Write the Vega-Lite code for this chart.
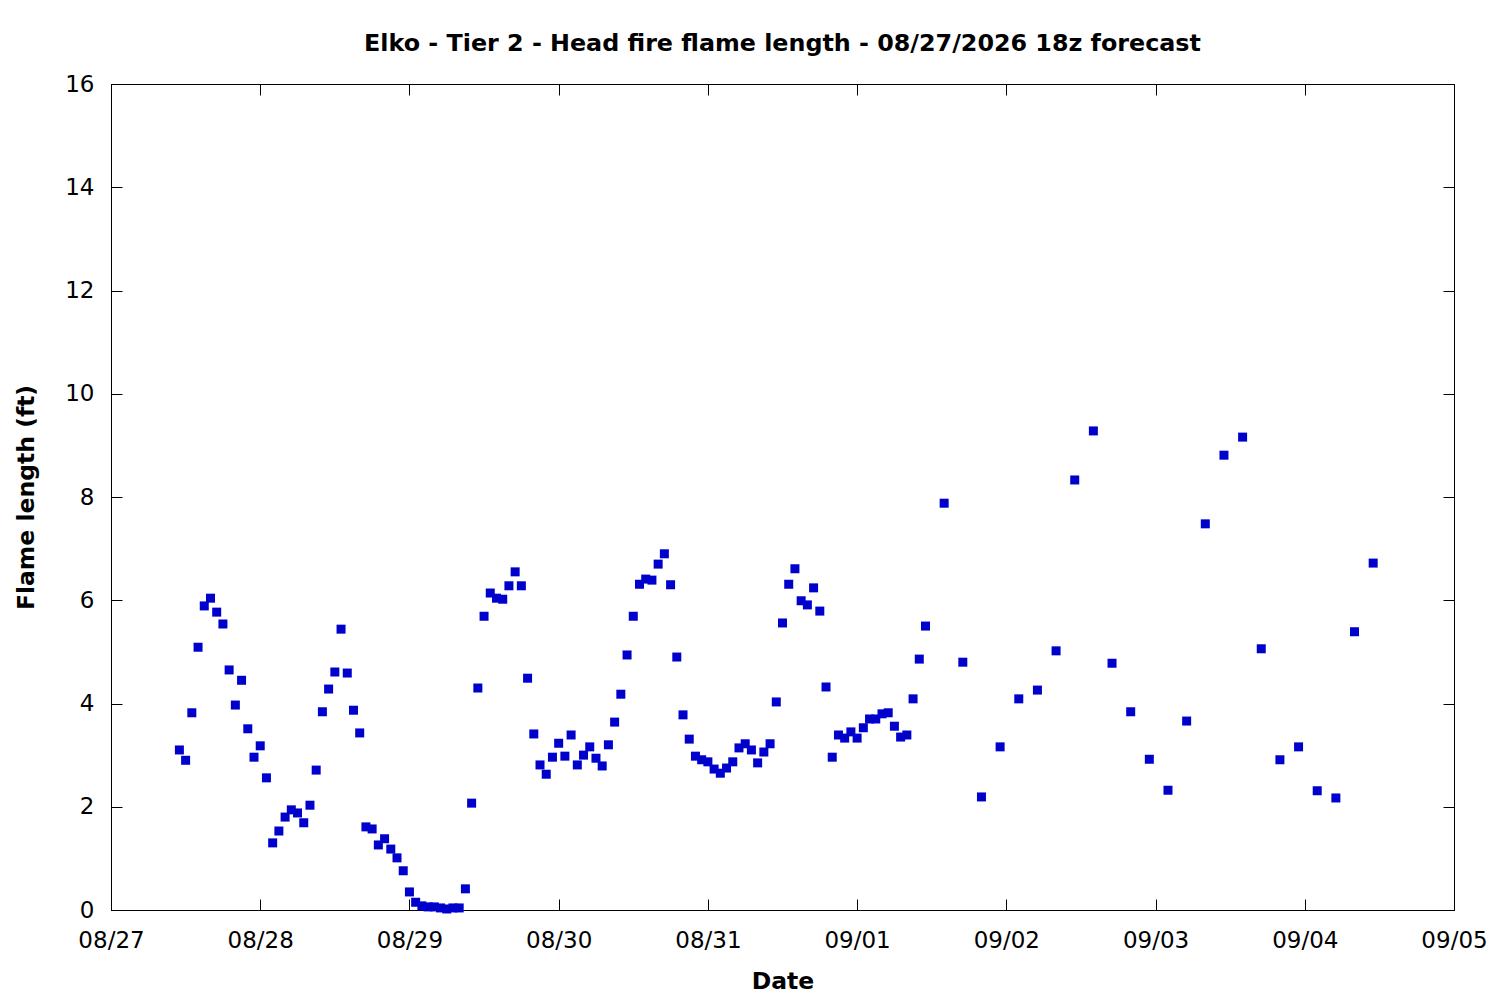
{
  "$schema": "https://vega.github.io/schema/vega-lite/v6.json",
  "width": 1343,
  "height": 826,
  "autosize": "none",
  "padding": {"left": 111, "top": 84, "right": 46, "bottom": 90},
  "background": "white",
  "title": {
    "text": "Elko - Tier 2 - Head fire flame length - 08/27/2026 18z forecast",
    "font": "DejaVu Sans",
    "fontSize": 23.8,
    "fontWeight": "bold",
    "color": "black",
    "anchor": "middle",
    "offset": 17
  },
  "data": {
    "values": [
      {"t": "2026-08-27T11:00:00", "v": 3.10},
      {"t": "2026-08-27T12:00:00", "v": 2.90},
      {"t": "2026-08-27T13:00:00", "v": 3.82},
      {"t": "2026-08-27T14:00:00", "v": 5.09},
      {"t": "2026-08-27T15:00:00", "v": 5.89},
      {"t": "2026-08-27T16:00:00", "v": 6.04},
      {"t": "2026-08-27T17:00:00", "v": 5.77},
      {"t": "2026-08-27T18:00:00", "v": 5.54},
      {"t": "2026-08-27T19:00:00", "v": 4.65},
      {"t": "2026-08-27T20:00:00", "v": 3.97},
      {"t": "2026-08-27T21:00:00", "v": 4.45},
      {"t": "2026-08-27T22:00:00", "v": 3.51},
      {"t": "2026-08-27T23:00:00", "v": 2.96},
      {"t": "2026-08-28T00:00:00", "v": 3.18},
      {"t": "2026-08-28T01:00:00", "v": 2.56},
      {"t": "2026-08-28T02:00:00", "v": 1.30},
      {"t": "2026-08-28T03:00:00", "v": 1.53},
      {"t": "2026-08-28T04:00:00", "v": 1.80},
      {"t": "2026-08-28T05:00:00", "v": 1.94},
      {"t": "2026-08-28T06:00:00", "v": 1.88},
      {"t": "2026-08-28T07:00:00", "v": 1.69},
      {"t": "2026-08-28T08:00:00", "v": 2.03},
      {"t": "2026-08-28T09:00:00", "v": 2.71},
      {"t": "2026-08-28T10:00:00", "v": 3.84},
      {"t": "2026-08-28T11:00:00", "v": 4.28},
      {"t": "2026-08-28T12:00:00", "v": 4.61},
      {"t": "2026-08-28T13:00:00", "v": 5.44},
      {"t": "2026-08-28T14:00:00", "v": 4.59},
      {"t": "2026-08-28T15:00:00", "v": 3.87},
      {"t": "2026-08-28T16:00:00", "v": 3.43},
      {"t": "2026-08-28T17:00:00", "v": 1.61},
      {"t": "2026-08-28T18:00:00", "v": 1.57},
      {"t": "2026-08-28T19:00:00", "v": 1.26},
      {"t": "2026-08-28T20:00:00", "v": 1.38},
      {"t": "2026-08-28T21:00:00", "v": 1.18},
      {"t": "2026-08-28T22:00:00", "v": 1.01},
      {"t": "2026-08-28T23:00:00", "v": 0.76},
      {"t": "2026-08-29T00:00:00", "v": 0.35},
      {"t": "2026-08-29T01:00:00", "v": 0.15},
      {"t": "2026-08-29T02:00:00", "v": 0.08},
      {"t": "2026-08-29T03:00:00", "v": 0.06},
      {"t": "2026-08-29T04:00:00", "v": 0.06},
      {"t": "2026-08-29T05:00:00", "v": 0.04},
      {"t": "2026-08-29T06:00:00", "v": 0.02},
      {"t": "2026-08-29T07:00:00", "v": 0.04},
      {"t": "2026-08-29T08:00:00", "v": 0.04},
      {"t": "2026-08-29T09:00:00", "v": 0.41},
      {"t": "2026-08-29T10:00:00", "v": 2.07},
      {"t": "2026-08-29T11:00:00", "v": 4.30},
      {"t": "2026-08-29T12:00:00", "v": 5.69},
      {"t": "2026-08-29T13:00:00", "v": 6.14},
      {"t": "2026-08-29T14:00:00", "v": 6.04},
      {"t": "2026-08-29T15:00:00", "v": 6.02},
      {"t": "2026-08-29T16:00:00", "v": 6.28},
      {"t": "2026-08-29T17:00:00", "v": 6.55},
      {"t": "2026-08-29T18:00:00", "v": 6.28},
      {"t": "2026-08-29T19:00:00", "v": 4.49},
      {"t": "2026-08-29T20:00:00", "v": 3.41},
      {"t": "2026-08-29T21:00:00", "v": 2.81},
      {"t": "2026-08-29T22:00:00", "v": 2.63},
      {"t": "2026-08-29T23:00:00", "v": 2.96},
      {"t": "2026-08-30T00:00:00", "v": 3.23},
      {"t": "2026-08-30T01:00:00", "v": 2.98},
      {"t": "2026-08-30T02:00:00", "v": 3.39},
      {"t": "2026-08-30T03:00:00", "v": 2.81},
      {"t": "2026-08-30T04:00:00", "v": 3.00},
      {"t": "2026-08-30T05:00:00", "v": 3.16},
      {"t": "2026-08-30T06:00:00", "v": 2.94},
      {"t": "2026-08-30T07:00:00", "v": 2.79},
      {"t": "2026-08-30T08:00:00", "v": 3.20},
      {"t": "2026-08-30T09:00:00", "v": 3.64},
      {"t": "2026-08-30T10:00:00", "v": 4.18},
      {"t": "2026-08-30T11:00:00", "v": 4.94},
      {"t": "2026-08-30T12:00:00", "v": 5.69},
      {"t": "2026-08-30T13:00:00", "v": 6.31},
      {"t": "2026-08-30T14:00:00", "v": 6.41},
      {"t": "2026-08-30T15:00:00", "v": 6.39},
      {"t": "2026-08-30T16:00:00", "v": 6.70},
      {"t": "2026-08-30T17:00:00", "v": 6.90},
      {"t": "2026-08-30T18:00:00", "v": 6.30},
      {"t": "2026-08-30T19:00:00", "v": 4.90},
      {"t": "2026-08-30T20:00:00", "v": 3.78},
      {"t": "2026-08-30T21:00:00", "v": 3.31},
      {"t": "2026-08-30T22:00:00", "v": 2.98},
      {"t": "2026-08-30T23:00:00", "v": 2.91},
      {"t": "2026-08-31T00:00:00", "v": 2.87},
      {"t": "2026-08-31T01:00:00", "v": 2.73},
      {"t": "2026-08-31T02:00:00", "v": 2.65},
      {"t": "2026-08-31T03:00:00", "v": 2.75},
      {"t": "2026-08-31T04:00:00", "v": 2.87},
      {"t": "2026-08-31T05:00:00", "v": 3.14},
      {"t": "2026-08-31T06:00:00", "v": 3.22},
      {"t": "2026-08-31T07:00:00", "v": 3.10},
      {"t": "2026-08-31T08:00:00", "v": 2.85},
      {"t": "2026-08-31T09:00:00", "v": 3.06},
      {"t": "2026-08-31T10:00:00", "v": 3.22},
      {"t": "2026-08-31T11:00:00", "v": 4.03},
      {"t": "2026-08-31T12:00:00", "v": 5.56},
      {"t": "2026-08-31T13:00:00", "v": 6.31},
      {"t": "2026-08-31T14:00:00", "v": 6.61},
      {"t": "2026-08-31T15:00:00", "v": 5.99},
      {"t": "2026-08-31T16:00:00", "v": 5.91},
      {"t": "2026-08-31T17:00:00", "v": 6.24},
      {"t": "2026-08-31T18:00:00", "v": 5.79},
      {"t": "2026-08-31T19:00:00", "v": 4.32},
      {"t": "2026-08-31T20:00:00", "v": 2.96},
      {"t": "2026-08-31T21:00:00", "v": 3.39},
      {"t": "2026-08-31T22:00:00", "v": 3.33},
      {"t": "2026-08-31T23:00:00", "v": 3.45},
      {"t": "2026-09-01T00:00:00", "v": 3.33},
      {"t": "2026-09-01T01:00:00", "v": 3.53},
      {"t": "2026-09-01T02:00:00", "v": 3.70},
      {"t": "2026-09-01T03:00:00", "v": 3.70},
      {"t": "2026-09-01T04:00:00", "v": 3.80},
      {"t": "2026-09-01T05:00:00", "v": 3.82},
      {"t": "2026-09-01T06:00:00", "v": 3.56},
      {"t": "2026-09-01T07:00:00", "v": 3.35},
      {"t": "2026-09-01T08:00:00", "v": 3.39},
      {"t": "2026-09-01T09:00:00", "v": 4.09},
      {"t": "2026-09-01T10:00:00", "v": 4.86},
      {"t": "2026-09-01T11:00:00", "v": 5.50},
      {"t": "2026-09-01T14:00:00", "v": 7.88},
      {"t": "2026-09-01T17:00:00", "v": 4.80},
      {"t": "2026-09-01T20:00:00", "v": 2.19},
      {"t": "2026-09-01T23:00:00", "v": 3.16},
      {"t": "2026-09-02T02:00:00", "v": 4.09},
      {"t": "2026-09-02T05:00:00", "v": 4.26},
      {"t": "2026-09-02T08:00:00", "v": 5.02},
      {"t": "2026-09-02T11:00:00", "v": 8.33},
      {"t": "2026-09-02T14:00:00", "v": 9.28},
      {"t": "2026-09-02T17:00:00", "v": 4.78},
      {"t": "2026-09-02T20:00:00", "v": 3.84},
      {"t": "2026-09-02T23:00:00", "v": 2.92},
      {"t": "2026-09-03T02:00:00", "v": 2.32},
      {"t": "2026-09-03T05:00:00", "v": 3.66},
      {"t": "2026-09-03T08:00:00", "v": 7.48},
      {"t": "2026-09-03T11:00:00", "v": 8.81},
      {"t": "2026-09-03T14:00:00", "v": 9.16},
      {"t": "2026-09-03T17:00:00", "v": 5.06},
      {"t": "2026-09-03T20:00:00", "v": 2.91},
      {"t": "2026-09-03T23:00:00", "v": 3.16},
      {"t": "2026-09-04T02:00:00", "v": 2.31},
      {"t": "2026-09-04T05:00:00", "v": 2.17},
      {"t": "2026-09-04T08:00:00", "v": 5.39},
      {"t": "2026-09-04T11:00:00", "v": 6.72}
    ]
  },
  "layer": [
    {
      "mark": {"type": "point", "shape": "square", "filled": true, "size": 81, "color": "#0000cd", "opacity": 1},
      "encoding": {
        "x": {
          "field": "t",
          "type": "temporal",
          "title": "Date",
          "scale": {"domain": [{"year": 2026, "month": 8, "date": 27}, {"year": 2026, "month": 9, "date": 5}], "nice": false},
          "axis": {"orient": "bottom", "format": "%m/%d", "tickCount": {"interval": "day", "step": 1}, "labelFlush": false, "labelPadding": 30, "titlePadding": 17}
        },
        "y": {
          "field": "v",
          "type": "quantitative",
          "title": "Flame length (ft)",
          "scale": {"domain": [0, 16], "nice": false},
          "axis": {"orient": "left", "values": [0, 2, 4, 6, 8, 10, 12, 14, 16], "labelFlush": false, "labelPadding": 28, "titlePadding": 26}
        }
      }
    },
    {
      "mark": {"type": "point", "opacity": 0},
      "encoding": {
        "x": {
          "field": "t",
          "type": "temporal",
          "axis": {"orient": "top", "labels": false, "domain": false, "title": null, "tickCount": {"interval": "day", "step": 1}}
        },
        "y": {
          "field": "v",
          "type": "quantitative",
          "axis": {"orient": "right", "labels": false, "domain": false, "title": null, "values": [0, 2, 4, 6, 8, 10, 12, 14, 16]}
        }
      }
    }
  ],
  "resolve": {"axis": {"x": "independent", "y": "independent"}},
  "config": {
    "font": "DejaVu Sans",
    "view": {"stroke": "black", "strokeWidth": 1},
    "axis": {
      "grid": false,
      "domainColor": "black",
      "tickColor": "black",
      "tickSize": -11,
      "labelFont": "DejaVu Sans",
      "labelFontSize": 23,
      "labelColor": "black",
      "titleFont": "DejaVu Sans",
      "titleFontSize": 23.5,
      "titleFontWeight": "bold",
      "titleColor": "black"
    }
  }
}
